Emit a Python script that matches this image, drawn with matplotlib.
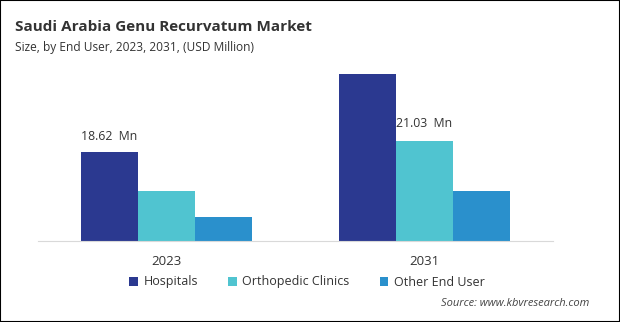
import numpy as np
import matplotlib
matplotlib.use("Agg")
import matplotlib.pyplot as plt
from matplotlib.patches import Rectangle

# values (USD Million)
years = ["2023", "2031"]
series = ["Hospitals", "Orthopedic Clinics", "Other End User"]
hospitals = [18.62, 34.9]
orthopedic = [10.45, 21.03]
other_end_user = [5.05, 10.45]
colors = ["#2B3990", "#50C4D0", "#2A90CC"]

plt.rcParams["font.family"] = ["Open Sans", "DejaVu Sans"]
text_color = "#333333"

fig = plt.figure(figsize=(6.2, 3.22), dpi=100)
ax = fig.add_axes([38 / 620, 1 - 241 / 322, 515 / 620, 181 / 322])

x = np.arange(len(years))
width = 0.222
values = [hospitals, orthopedic, other_end_user]
for i, (name, vals) in enumerate(zip(series, values)):
    ax.bar(x + (i - 1) * width, vals, width, color=colors[i], label=name)

# value labels
ax.annotate(f"{hospitals[0]:.2f}  Mn", (x[0] - width, hospitals[0]),
            xytext=(0, 11.5), textcoords="offset points", ha="center",
            va="center", fontsize=8.8, color=text_color)
ax.annotate(f"{orthopedic[1]:.2f}  Mn", (x[1], orthopedic[1]),
            xytext=(0, 12.2), textcoords="offset points", ha="center",
            va="center", fontsize=8.8, color=text_color)

ax.set_xlim(-0.5, 1.5)
ax.set_ylim(0, 37.9)
ax.set_xticks(x)
ax.set_xticklabels(years, fontsize=9.5, color=text_color)
ax.tick_params(axis="x", length=0, pad=10)
ax.set_yticks([])
for side in ["top", "right", "left"]:
    ax.spines[side].set_visible(False)
ax.spines["bottom"].set_color("#d9d9d9")

leg = fig.legend(loc="center", bbox_to_anchor=(307 / 620, 1 - 282 / 322), ncol=3,
                 frameon=False, fontsize=9, handlelength=0.7, handleheight=0.7,
                 handletextpad=0.45, columnspacing=2.4)
for t in leg.get_texts():
    t.set_color(text_color)

fig.text(15 / 620, 1 - 27 / 322, "Saudi Arabia Genu Recurvatum Market",
         fontsize=11, fontweight="bold", color=text_color, va="center")
fig.text(15 / 620, 1 - 47 / 322, "Size, by End User, 2023, 2031, (USD Million)",
         fontsize=8.6, color=text_color, va="center")
fig.text(589 / 620, 1 - 303 / 322, "Source: www.kbvresearch.com",
         fontsize=8, style="italic", color="#444444", ha="right", va="center")

fig.patches.append(Rectangle((0, 0), 1, 1, transform=fig.transFigure, fill=False,
                             edgecolor="black", linewidth=1.5))

fig.savefig("out.png", dpi=100)
